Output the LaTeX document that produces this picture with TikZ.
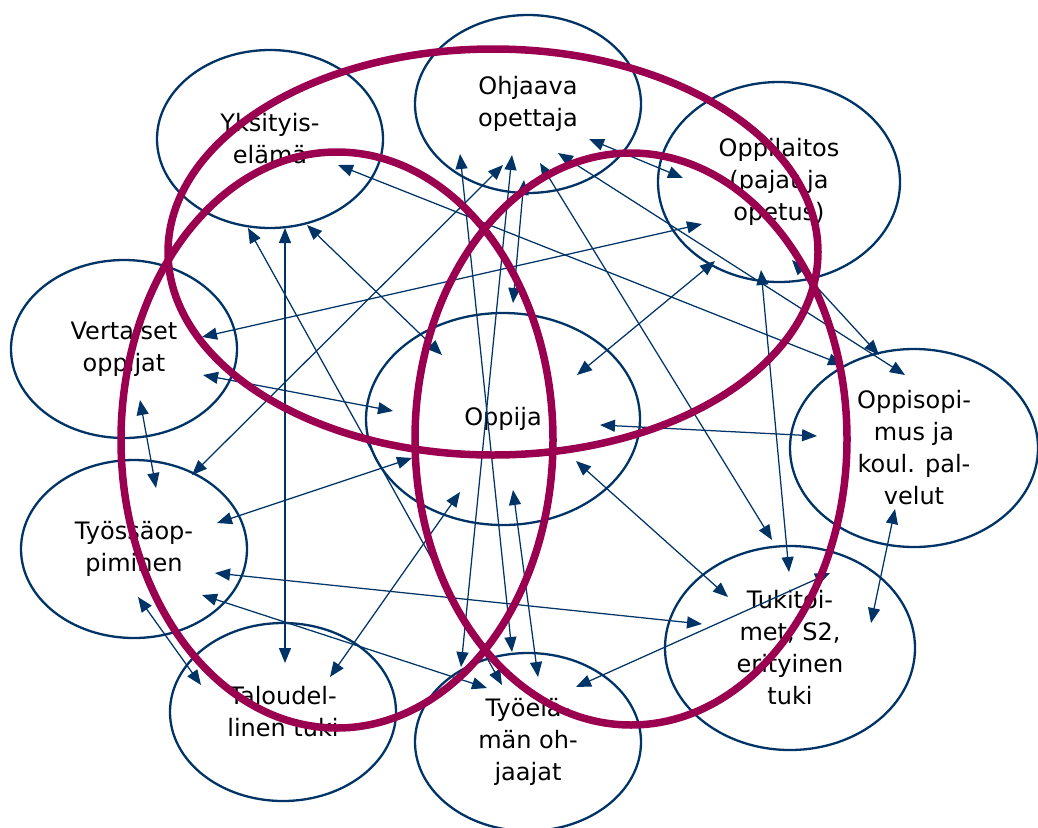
\documentclass[tikz,border=0pt]{standalone}
\usepackage{fontspec}
\setmainfont{DejaVu Sans}
\usetikzlibrary{shapes.geometric,arrows.meta,calc}
\definecolor{navy}{RGB}{0,51,102}
\definecolor{berry}{RGB}{155,0,80}
\begin{document}
\begin{tikzpicture}[x=1pt,y=-1pt,
  bubble/.style={ellipse, draw=navy, line width=2.3pt, inner sep=0pt,
    align=center, font=\fontsize{24}{32}\selectfont},
  link/.style={draw=navy, line width=1.25pt,
    {Triangle[length=15pt,width=12pt]}-{Triangle[length=15pt,width=12pt]}},
  ring/.style={draw=berry, line width=7.5pt}]
\useasboundingbox (0,0) rectangle (1038,827);

% actors
\node[bubble, minimum width=226pt, minimum height=178pt] (yks) at (270,139) {Yksityis-\\elämä};
\node[bubble, minimum width=226pt, minimum height=178pt] (ohj) at (528,104) {Ohjaava\\opettaja};
\node[bubble, minimum width=242pt, minimum height=200pt] (opl) at (779,182) {Oppilaitos\\(pajat ja\\opetus)};
\node[bubble, minimum width=226pt, minimum height=178pt] (ver) at (124,349) {Vertaiset\\oppijat};
\node[bubble, minimum width=274pt, minimum height=212pt] (opp) at (503,419) {Oppija};
\node[bubble, minimum width=248pt, minimum height=198pt] (ops) at (914,448) {Oppisopi-\\mus ja\\koul. pal-\\velut};
\node[bubble, minimum width=226pt, minimum height=178pt] (tyo) at (134,549) {Työssäop-\\piminen};
\node[bubble, minimum width=226pt, minimum height=178pt] (tal) at (283,712) {Taloudel-\\linen tuki};
\node[bubble, minimum width=226pt, minimum height=178pt] (tye) at (528,742) {Työelä-\\män oh-\\jaajat};
\node[bubble, minimum width=250pt, minimum height=204pt] (tuk) at (790,648) {Tukitoi-\\met, S2,\\erityinen\\tuki};

% two-way relations
\draw[link] ($(yks.center)+(15,89)$)   -- ($(tal.center)+(2,-49)$);
\draw[link] ($(yks.center)+(-22,89)$)  -- ($(tye.center)+(-26,-57)$);
\draw[link] ($(yks.center)+(37,86)$)   -- ($(opp.center)+(-61,-64)$);
\draw[link] ($(yks.center)+(68,26)$)   -- ($(ops.center)+(-71,-83)$);
\draw[link] ($(ohj.center)+(-16,51)$)  -- ($(tye.center)+(-67,-75)$);
\draw[link] ($(ohj.center)+(-68,50)$)  -- ($(tye.center)+(-16,-90)$);
\draw[link] ($(ohj.center)+(-4,76)$)   -- ($(opp.center)+(10,-116)$);
\draw[link] ($(ohj.center)+(12,59)$)   -- ($(tuk.center)+(-18,-108)$);
\draw[link] ($(ohj.center)+(30,49)$)   -- ($(ops.center)+(-9,-73)$);
\draw[link] ($(ohj.center)+(61,35)$)   -- ($(opl.center)+(-96,-4)$);
\draw[link] ($(ohj.center)+(-25,61)$)  -- ($(tyo.center)+(58,-74)$);
\draw[link] ($(opl.center)+(-77,42)$)  -- ($(ver.center)+(78,-12)$);
\draw[link] ($(opl.center)+(-64,79)$)  -- ($(opp.center)+(74,-44)$);
\draw[link] ($(opl.center)+(-18,88)$)  -- ($(tuk.center)+(-1,-76)$);
\draw[link] ($(opl.center)+(13,78)$)   -- ($(ops.center)+(-35,-93)$);
\draw[link] ($(ver.center)+(79,26)$)   -- ($(opp.center)+(-110,-8)$);
\draw[link] ($(ver.center)+(16,51)$)   -- ($(tyo.center)+(22,-61)$);
\draw[link] ($(opp.center)+(-91,39)$)  -- ($(tyo.center)+(83,-26)$);
\draw[link] ($(opp.center)+(-43,73)$)  -- ($(tal.center)+(47,-35)$);
\draw[link] ($(opp.center)+(10,71)$)   -- ($(tye.center)+(10,-65)$);
\draw[link] ($(opp.center)+(97,6)$)    -- ($(ops.center)+(-97,-12)$);
\draw[link] ($(opp.center)+(73,42)$)   -- ($(tuk.center)+(-62,-51)$);
\draw[link] ($(tyo.center)+(81,24)$)   -- ($(tuk.center)+(-88,-24)$);
\draw[link] ($(tyo.center)+(4,48)$)    -- ($(tal.center)+(-82,-27)$);
\draw[link] ($(tyo.center)+(68,46)$)   -- ($(tye.center)+(-41,-54)$);
\draw[link] ($(tye.center)+(48,-55)$)  -- ($(tuk.center)+(40,-75)$);
\draw[link] ($(ops.center)+(-19,61)$)  -- ($(tuk.center)+(81,-25)$);

% overlapping groupings
\draw[ring] (493,252) ellipse [x radius=325pt, y radius=203pt];
\draw[ring] (337,440) ellipse [x radius=216pt, y radius=288pt];
\draw[ring] (631,439) ellipse [x radius=216pt, y radius=286pt];
\end{tikzpicture}
\end{document}
